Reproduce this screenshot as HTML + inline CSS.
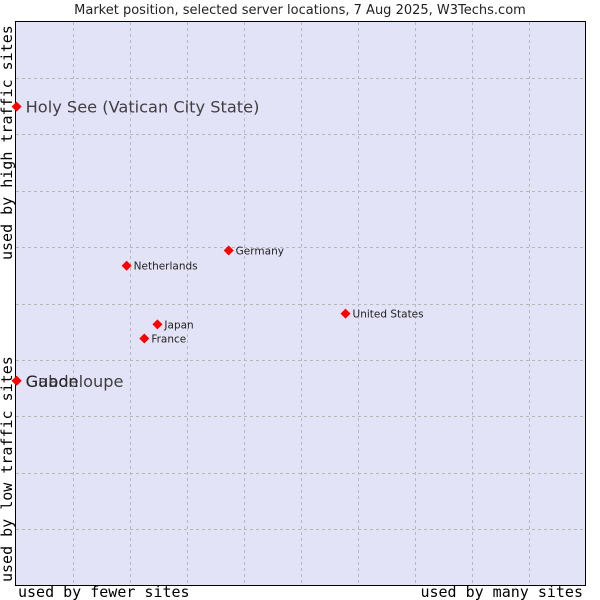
<!DOCTYPE html>
<html><head><meta charset="utf-8"><style>
body{margin:0;background:#fff;width:600px;height:600px;overflow:hidden}
svg{display:block}
</style></head><body>
<svg id="chart" width="600" height="600" xmlns="http://www.w3.org/2000/svg">
<text x="300" y="14" text-anchor="middle" font-family="DejaVu Sans, sans-serif" font-size="13" fill="#222">Market position, selected server locations, 7 Aug 2025, W3Techs.com</text>
<rect x="15.5" y="21.5" width="570" height="564" fill="#e3e3f8" stroke="#000"/>
<g id="grid"></g>
<text x="18" y="597" font-family="DejaVu Sans Mono, monospace" font-size="15" fill="#000">used by fewer sites</text>
<text x="583" y="597" text-anchor="end" font-family="DejaVu Sans Mono, monospace" font-size="15" fill="#000">used by many sites</text>
<text transform="translate(12,260) rotate(-90)" font-family="DejaVu Sans Mono, monospace" font-size="15" fill="#000">used by high traffic sites</text>
<text transform="translate(12,582) rotate(-90)" font-family="DejaVu Sans Mono, monospace" font-size="15" fill="#000">used by low traffic sites</text>
<g id="points"></g>
</svg>
<script>
const names = ["Holy See (Vatican City State)","Gabon","Guadeloupe","Netherlands","Germany","United States","Japan","France"];
const xValues = [0.2,0.2,0.2,19.5,37.4,57.9,24.9,22.6];
const yValues = [84.9,36.3,36.3,56.7,59.4,48.2,46.3,43.8];
const bigLabel = [true,true,true,false,false,false,false,false];
const X0=15.5,W=570,Y0=585.5,H=564;
const sx=v=>X0+v/100*W, sy=v=>Y0-v/100*H;
const NS="http://www.w3.org/2000/svg";
const grid=document.getElementById('grid');
for(let i=1;i<10;i++){
  const lx=document.createElementNS(NS,'line');
  
  
  const x=Math.round(sx(i*10))+0.5;
  lx.setAttribute('x1',x);lx.setAttribute('x2',x);lx.setAttribute('y1',22);lx.setAttribute('y2',585);
  lx.setAttribute('stroke','#b8b8b8');lx.setAttribute('stroke-dasharray','3,3');
  grid.appendChild(lx);
  const ly=document.createElementNS(NS,'line');
  
  
  const y=Math.round(sy(i*10))+0.5;
  ly.setAttribute('x1',16);ly.setAttribute('x2',585);ly.setAttribute('y1',y);ly.setAttribute('y2',y);
  ly.setAttribute('stroke','#b8b8b8');ly.setAttribute('stroke-dasharray','3,3');
  grid.appendChild(ly);
}
const pts=document.getElementById('points');
names.forEach((n,i)=>{
  const x=sx(xValues[i]),y=sy(yValues[i]);
  const p=document.createElementNS(NS,'polygon');
  
  
  p.setAttribute('points',`${x},${y-5} ${x+5},${y} ${x},${y+5} ${x-5},${y}`);
  p.setAttribute('fill','#ff0000');
  pts.appendChild(p);
  const t=document.createElementNS(NS,'text');
  
  
  t.setAttribute('x',x+(bigLabel[i]?9:7));
  t.setAttribute('y',y+(bigLabel[i]?6:4));
  t.setAttribute('font-family','DejaVu Sans, sans-serif');
  t.setAttribute('font-size',bigLabel[i]?16.2:10.5);
  t.setAttribute('fill','#222');
  if(bigLabel[i]) t.setAttribute('fill-opacity','0.85');
  t.textContent=n;
  pts.appendChild(t);
});
</script>
</body></html>
